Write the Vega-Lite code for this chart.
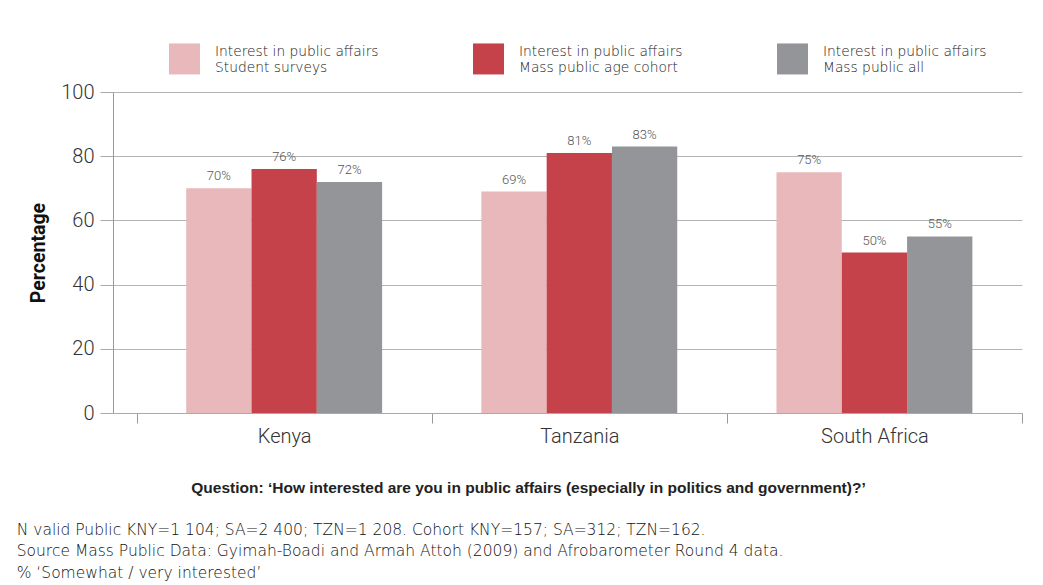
{
  "$schema": "https://vega.github.io/schema/vega-lite/v6.json",
  "width": 909,
  "height": 321,
  "autosize": {"type": "none"},
  "padding": {"left": 113, "top": 92, "right": 21, "bottom": 172},
  "background": "white",
  "config": {
    "font": "Roboto",
    "view": {"stroke": null},
    "text": {"font": "Roboto"}
  },
  "title": {
    "text": ["N valid Public KNY=1 104; SA=2 400; TZN=1 208. Cohort KNY=157; SA=312; TZN=162.", "Source Mass Public Data: Gyimah-Boadi and Armah Attoh (2009) and Afrobarometer Round 4 data.", "% ‘Somewhat / very interested’"],
    "orient": "bottom",
    "anchor": "start",
    "frame": "bounds",
    "dx": -12,
    "offset": 27,
    "fontSize": 15.5,
    "fontWeight": 200,
    "font": "DejaVu Sans",
    "color": "#111111",
    "lineHeight": 21.5
  },
  "data": {
    "values": [
      {"country": "Kenya", "series": "Interest in public affairs|Student surveys", "value": 70},
      {"country": "Kenya", "series": "Interest in public affairs|Mass public age cohort", "value": 76},
      {"country": "Kenya", "series": "Interest in public affairs|Mass public all", "value": 72},
      {"country": "Tanzania", "series": "Interest in public affairs|Student surveys", "value": 69},
      {"country": "Tanzania", "series": "Interest in public affairs|Mass public age cohort", "value": 81},
      {"country": "Tanzania", "series": "Interest in public affairs|Mass public all", "value": 83},
      {"country": "South Africa", "series": "Interest in public affairs|Student surveys", "value": 75},
      {"country": "South Africa", "series": "Interest in public affairs|Mass public age cohort", "value": 50},
      {"country": "South Africa", "series": "Interest in public affairs|Mass public all", "value": 55}
    ]
  },
  "encoding": {
    "x": {
      "field": "country",
      "type": "nominal",
      "sort": ["Kenya", "Tanzania", "South Africa"],
      "scale": {"paddingInner": 0, "paddingOuter": 0.04, "align": 1},
      "axis": {
        "title": "Question: ‘How interested are you in public affairs (especially in politics and government)?’",
        "titleFontSize": 15.5,
        "titleFontWeight": "bold",
        "titleFont": "Liberation Sans",
        "titleColor": "#222222",
        "titleX": 415,
        "titleY": 74,
        "titleBaseline": "middle",
        "titleAnchor": "middle",
        "labelAngle": 0,
        "labelFontSize": 20,
        "labelFontWeight": 300,
        "labelColor": "#333333",
        "labelPadding": 3,
        "tickBand": "extent",
        "tickSize": 10,
        "tickColor": "#999999",
        "domainColor": "#aaaaaa",
        "grid": false
      }
    },
    "xOffset": {
      "field": "series",
      "type": "nominal",
      "sort": ["Interest in public affairs|Student surveys", "Interest in public affairs|Mass public age cohort", "Interest in public affairs|Mass public all"],
      "scale": {"paddingInner": 0, "paddingOuter": 0.76}
    },
    "y": {
      "field": "value",
      "type": "quantitative",
      "scale": {"domain": [0, 100]},
      "axis": {
        "title": "Percentage",
        "titleFontSize": 19.5,
        "titleFontWeight": "bold",
        "titleColor": "#111111",
        "titlePadding": 12,
        "values": [0, 20, 40, 60, 80, 100],
        "labelFontSize": 20,
        "labelFontWeight": 300,
        "labelColor": "#333333",
        "labelPadding": 6,
        "tickSize": 13,
        "tickColor": "#aaaaaa",
        "gridColor": "#b5b5b5",
        "domainColor": "#999999"
      }
    }
  },
  "layer": [
    {
      "mark": {"type": "bar"},
      "encoding": {
        "color": {
          "field": "series",
          "type": "nominal",
          "scale": {
            "domain": ["Interest in public affairs|Student surveys", "Interest in public affairs|Mass public age cohort", "Interest in public affairs|Mass public all"],
            "range": ["#e8b8bb", "#c5424a", "#939598"]
          },
          "legend": {
            "title": null,
            "orient": "none",
            "legendX": 56,
            "legendY": -49,
            "direction": "horizontal",
            "columns": 3,
            "columnPadding": 94,
            "padding": 0,
            "symbolType": "square",
            "symbolSize": 961,
            "symbolStrokeWidth": 0,
            "symbolOpacity": 1,
            "labelExpr": "split(datum.label, '|')",
            "labelFont": "DejaVu Sans",
            "labelFontWeight": 200,
            "labelFontSize": 13.8,
            "labelColor": "#222222",
            "labelOffset": 15,
            "labelLimit": 300,
            "labelBaseline": "bottom",
            "labelLineHeight": 19
          }
        }
      }
    },
    {
      "transform": [{"calculate": "datum.value + '%'", "as": "label"}],
      "mark": {"type": "text", "baseline": "bottom", "dy": -5, "fontSize": 13, "fontWeight": 300, "color": "#555555"},
      "encoding": {
        "text": {"field": "label", "type": "nominal"},
        "detail": {"field": "series"}
      }
    }
  ]
}
